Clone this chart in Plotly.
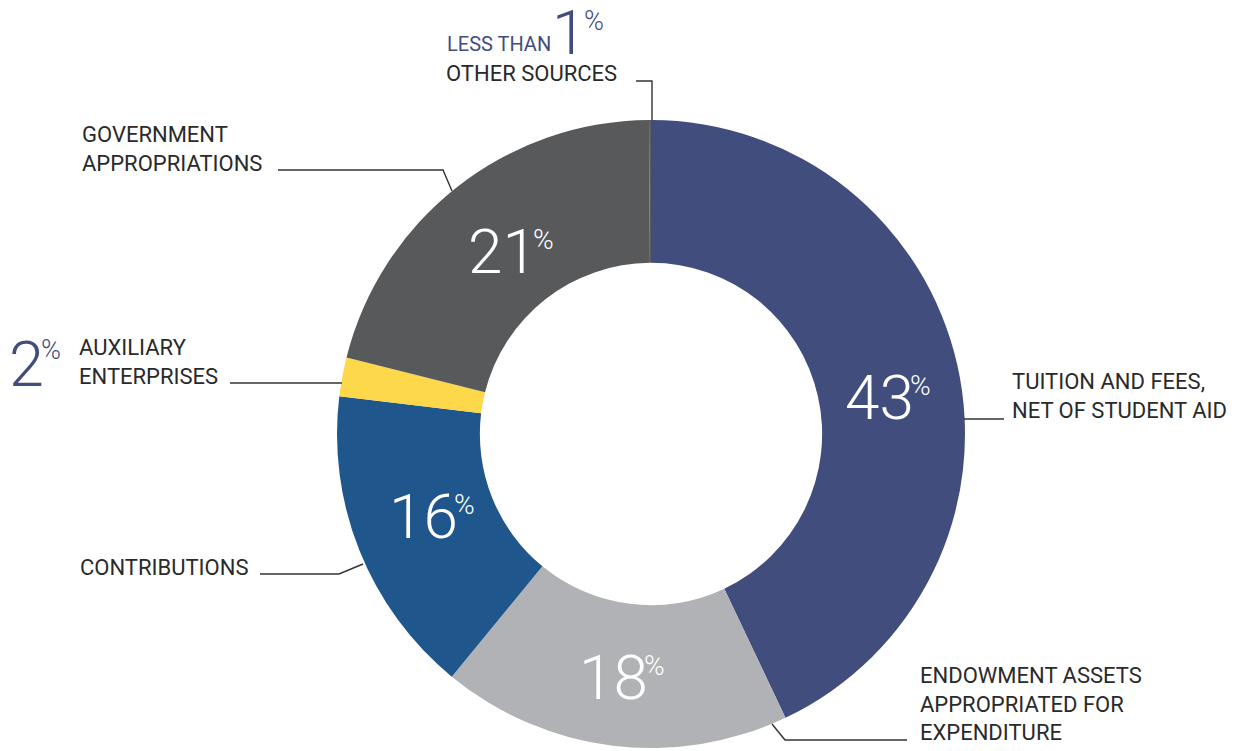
import math
import plotly.graph_objects as go

# ---- data ----
categories = ["TUITION AND FEES,<br>NET OF STUDENT AID",
              "ENDOWMENT ASSETS<br>APPROPRIATED FOR<br>EXPENDITURE",
              "CONTRIBUTIONS",
              "AUXILIARY<br>ENTERPRISES",
              "GOVERNMENT<br>APPROPRIATIONS",
              "OTHER SOURCES"]
values = [43, 18, 16, 2, 21, 0.1]
value_labels = ["43", "18", "16", "2", "21", "1"]
show_inside = [True, True, True, False, True, False]
colors = ["#414D7C", "#B1B2B5", "#1F578C", "#FDD84B", "#58595B", "#5C5D5F"]

W, H = 1241, 751
OFF = 8  # page body margin of the browser
FONT = "Roboto"
TXT = "#2A2A2A"
BLUE = "#414D7C"


def px(x):
    return (x - OFF) / W


def py(y):
    return 1 - (y - OFF) / H


# pie geometry (reference pixels)
CX, CY, R_OUT, HOLE = 651, 434, 314, 0.545

fig = go.Figure(go.Pie(
    values=values,
    labels=[c.replace("<br>", " ") for c in categories],
    textinfo="none",
    marker=dict(colors=colors, line=dict(width=0)),
    hole=HOLE,
    sort=False,
    direction="clockwise",
    rotation=0,
    hoverinfo="skip",
    showlegend=False,
    domain=dict(x=[px(CX - R_OUT), px(CX + R_OUT)], y=[py(CY + R_OUT), py(CY - R_OUT)]),
))

annotations = []

# inside percentage labels placed at each slice's mid-angle (+ small layout nudges)
total = sum(values)
r_mid = R_OUT * (1 + HOLE) / 2
NUM_SIZE, PCT_SIZE = 62, 28
DIGIT_W = 0.56 * NUM_SIZE
PCT_W = 20
nudges = [(4, 17), (4, 3), (9, -8), (0, 0), (13, 8), (0, 0)]
cum = 0
for v, lab, s, (nx, ny) in zip(values, value_labels, show_inside, nudges):
    mid = (cum + v / 2) / total * 2 * math.pi
    cum += v
    if not s:
        continue
    cx = CX + r_mid * math.sin(mid) + nx
    cy = CY - r_mid * math.cos(mid) + ny
    num_w = DIGIT_W * len(lab)
    left = cx - (num_w + PCT_W) / 2
    annotations.append(dict(
        x=px(left + num_w), y=py(cy), xref="paper", yref="paper", text=lab,
        showarrow=False, xanchor="right", yanchor="middle",
        font=dict(family=FONT, size=NUM_SIZE, color="white", weight=300)))
    annotations.append(dict(
        x=px(left + num_w - 8), y=py(cy - 12), xref="paper", yref="paper", text="%",
        showarrow=False, xanchor="left", yanchor="middle",
        font=dict(family=FONT, size=PCT_SIZE, color="white", weight=300)))

# outside category labels (pixel positions)
label_pos = {
    0: (1010, 396),
    1: (918, 704),
    2: (78, 567),
    3: (77, 362),
    4: (80, 149),
    5: (444, 74),
}
for i, (x, y) in label_pos.items():
    annotations.append(dict(
        x=px(x), y=py(y), xref="paper", yref="paper", text=categories[i],
        showarrow=False, xanchor="left", yanchor="middle", align="left",
        font=dict(family=FONT, size=22, color=TXT)))

# "2%" big blue number for auxiliary
annotations.append(dict(x=px(46), y=py(364), xref="paper", yref="paper",
                        text=value_labels[3], showarrow=False, xanchor="right", yanchor="middle",
                        font=dict(family=FONT, size=63, color=BLUE, weight=300)))
annotations.append(dict(x=px(39), y=py(350), xref="paper", yref="paper",
                        text="%", showarrow=False, xanchor="left", yanchor="middle",
                        font=dict(family=FONT, size=27, color=BLUE, weight=300)))

# "LESS THAN 1%" for other sources
annotations.append(dict(x=px(445), y=py(44), xref="paper", yref="paper",
                        text="LESS THAN", showarrow=False, xanchor="left", yanchor="middle",
                        font=dict(family=FONT, size=20, color=BLUE)))
annotations.append(dict(x=px(588), y=py(33), xref="paper", yref="paper",
                        text=value_labels[5], showarrow=False, xanchor="right", yanchor="middle",
                        font=dict(family=FONT, size=62, color=BLUE, weight=300)))
annotations.append(dict(x=px(582), y=py(21), xref="paper", yref="paper",
                        text="%", showarrow=False, xanchor="left", yanchor="middle",
                        font=dict(family=FONT, size=27, color=BLUE, weight=300)))

# leader lines (pixel polylines)
leaders = [
    [(964, 419), (1004, 419)],
    [(772, 724), (785, 740), (907, 740)],
    [(260, 574), (339, 574), (363, 564)],
    [(230, 383), (342, 383)],
    [(278, 170), (443, 170), (452, 191)],
    [(636, 81), (652, 81), (652, 120)],
]
shapes = []
for pts in leaders:
    path = "M " + " L ".join(f"{px(x)},{py(y)}" for x, y in pts)
    shapes.append(dict(type="path", xref="paper", yref="paper", path=path,
                       line=dict(color="#333333", width=1.4)))

fig.update_layout(
    width=W, height=H,
    margin=dict(l=0, r=0, t=0, b=0),
    paper_bgcolor="white", plot_bgcolor="white",
    annotations=annotations, shapes=shapes,
)

fig.write_html("out.html")
